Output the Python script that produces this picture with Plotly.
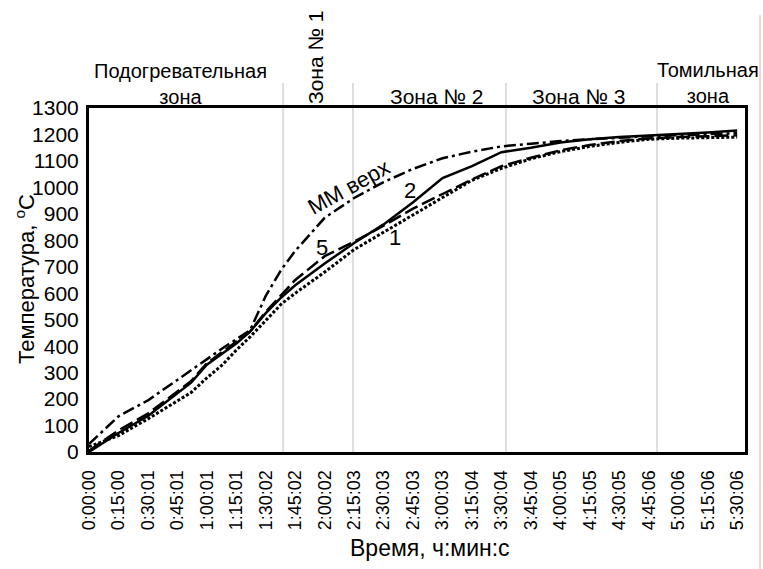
import plotly.graph_objects as go

# ---- data ----
time_min = [0, 15, 30, 45, 52, 60, 68, 75, 82, 90, 98, 105, 120, 135, 150, 165,
            180, 195, 210, 225, 240, 255, 270, 285, 300, 315, 330]

curve_2 = [0, 72, 136, 220, 262, 330, 371, 410, 455, 525, 585, 630, 712, 790, 860, 944,
           1035, 1080, 1133, 1150, 1170, 1182, 1190, 1195, 1200, 1207, 1215]
curve_5 = [5, 82, 145, 228, 268, 335, 378, 415, 455, 530, 595, 650, 740, 795, 855, 920,
           975, 1030, 1080, 1112, 1140, 1160, 1175, 1185, 1190, 1193, 1197]
curve_1 = [20, 62, 125, 195, 225, 280, 330, 385, 435, 497, 560, 600, 680, 765, 830, 895,
           960, 1027, 1072, 1108, 1135, 1155, 1170, 1182, 1186, 1188, 1190]
curve_mm = [30, 135, 195, 273, 310, 352, 392, 426, 460, 590, 690, 760, 885, 960, 1020, 1070,
            1110, 1135, 1155, 1165, 1175, 1182, 1188, 1193, 1197, 1201, 1205]

tick_vals = [0, 15, 30, 45, 60, 75, 90, 105, 120, 135, 150, 165, 180, 195, 210, 225,
             240, 255, 270, 285, 300, 315, 330]
tick_text = ["0:00:00", "0:15:00", "0:30:01", "0:45:01", "1:00:01", "1:15:01", "1:30:02",
             "1:45:02", "2:00:02", "2:15:03", "2:30:03", "2:45:03", "3:00:03", "3:15:04",
             "3:30:04", "3:45:04", "4:00:05", "4:15:05", "4:30:05", "4:45:06", "5:00:06",
             "5:15:06", "5:30:06"]

zone_bounds = [98.8, 134.4, 212.3, 289.2]

FONT = "Liberation Sans, Arial, sans-serif"

fig = go.Figure()
fig.add_trace(go.Scatter(x=time_min, y=curve_1, mode="lines",
                         line=dict(color="black", width=3, dash="3px,2px")))
fig.add_trace(go.Scatter(x=time_min, y=curve_5, mode="lines",
                         line=dict(color="black", width=2.5, dash="14px,5px")))
fig.add_trace(go.Scatter(x=time_min, y=curve_2, mode="lines",
                         line=dict(color="black", width=2.5)))
fig.add_trace(go.Scatter(x=time_min, y=curve_mm, mode="lines",
                         line=dict(color="black", width=2.5, dash="12px,4px,3px,4px")))

shapes = []
for xb in zone_bounds:
    shapes.append(dict(type="line", xref="x", yref="paper", x0=xb, x1=xb, y0=0, y1=1.073,
                       line=dict(color="#c8c8c8", width=1.2), layer="below"))
# pink right-edge line
shapes.append(dict(type="line", xref="paper", yref="paper", x0=1.0229, x1=1.0229,
                   y0=1.27, y1=-0.34, line=dict(color="#f4a6a6", width=1)))

ann = []
def add_text(text, x, y, xref="x", yref="paper", angle=0, size=21):
    ann.append(dict(text=text, x=x, y=y, xref=xref, yref=yref, showarrow=False,
                    textangle=angle, font=dict(family=FONT, size=size, color="black"),
                    xanchor="center", yanchor="middle"))

# zone labels (pixel -> paper conversions)
def py(p):
    return (452 - p) / 344.0
def px(p):
    return (p - 89) / 656.0

add_text("Подогревательная<br>зона", px(180), py(84), xref="paper", size=20)
add_text("Зона № 1", px(316), py(57), xref="paper", angle=-90)
add_text("Зона № 2", px(437), py(97), xref="paper")
add_text("Зона № 3", px(579), py(97), xref="paper")
add_text("Томильная<br>зона", px(708), py(83), xref="paper", size=20)

# curve labels
add_text("ММ верх", 131.9, 1001, yref="y", angle=-29, size=22)
add_text("2", 163.4, 990, yref="y", size=22)
add_text("5", 118.6, 771, yref="y", size=22)
add_text("1", 155.8, 812, yref="y", size=22)

# axis titles
add_text("Температура, <sup>o</sup>C", px(25), py(279), xref="paper", angle=-90, size=22)
add_text("Время, ч:мин:с", px(430), py(548), xref="paper", size=23)

fig.update_layout(
    width=763, height=569,
    margin=dict(l=89, r=18, t=108, b=117),
    paper_bgcolor="white", plot_bgcolor="white",
    showlegend=False,
    font=dict(family=FONT, size=20, color="black"),
    shapes=shapes, annotations=ann,
    xaxis=dict(range=[0, 334], tickmode="array", tickvals=tick_vals, ticktext=tick_text,
               tickangle=-90, showgrid=False, zeroline=False, showline=True, mirror=True,
               linecolor="black", linewidth=3, ticks="", ticklabelstandoff=8,
               tickfont=dict(family=FONT, size=18, color="black")),
    yaxis=dict(range=[0, 1300], tickmode="array", tickvals=list(range(0, 1301, 100)),
               showgrid=False, zeroline=False, showline=True, mirror=True,
               linecolor="black", linewidth=3, ticks="", ticklabelstandoff=3,
               tickfont=dict(family=FONT, size=21, color="black")),
)

fig.write_html("out.html")
